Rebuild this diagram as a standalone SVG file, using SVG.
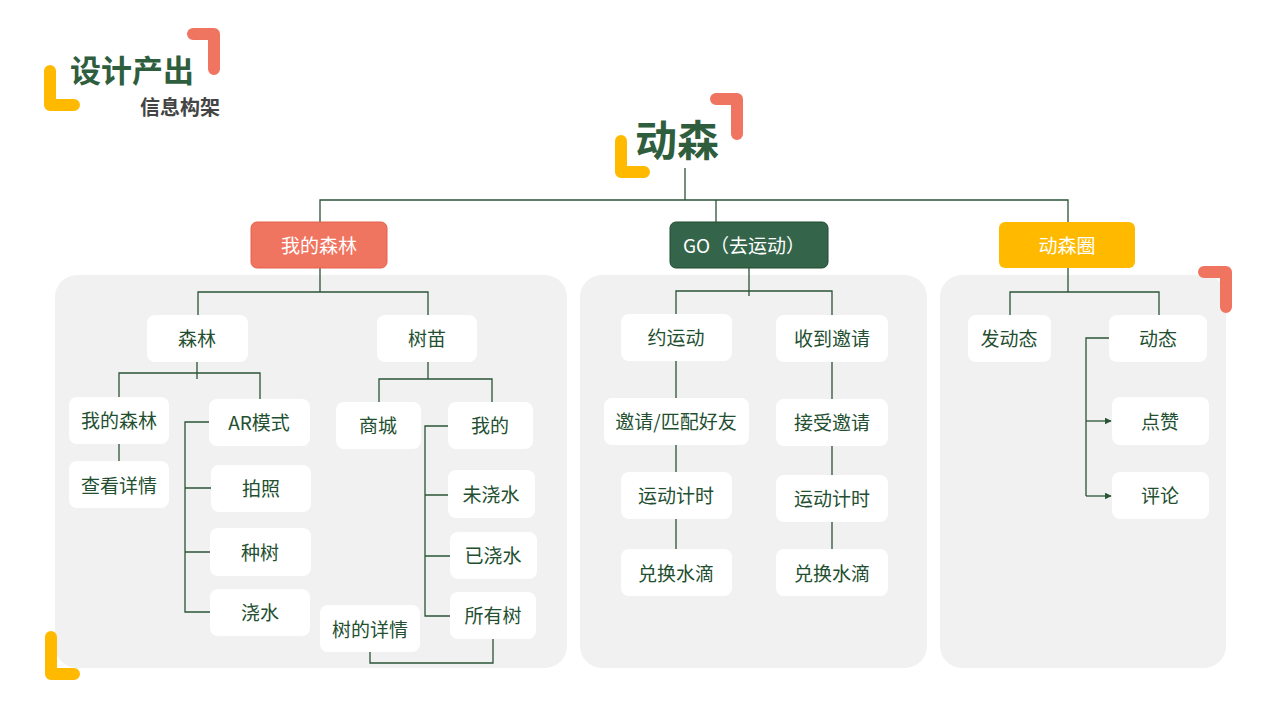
<svg xmlns="http://www.w3.org/2000/svg" width="1280" height="720" viewBox="0 0 1280 720">
<defs>
<style>
text{font-family:"Noto Sans CJK SC","Noto Sans",sans-serif;text-anchor:middle;dominant-baseline:central}
.n rect{fill:#ffffff}
.n text{font-size:19px;fill:#234f30}
.h text{font-size:19px;fill:#ffffff}
.panel{fill:#f0f1f0}
.br{fill:none;stroke-width:12;stroke-linecap:round;stroke-linejoin:round}
.y{stroke:#ffba00}
.r{stroke:#f07560}
.c path{fill:none;stroke:#2a5436;stroke-width:1.3}
</style>
<marker id="ar" viewBox="0 0 10 10" refX="9" refY="5" markerWidth="7" markerHeight="7" markerUnits="userSpaceOnUse" orient="auto">
<path d="M0,0 L10,5 L0,10 z" fill="#2a5436"/>
</marker>
</defs>
<rect width="1280" height="720" fill="#ffffff"/>

<!-- decorative brackets -->
<path class="br y" d="M50,71 L50,105 L74,105"/>
<path class="br r" d="M193,34 L214,34 L214,69"/>
<path class="br y" d="M621,141 L621,172 L644,172"/>
<path class="br r" d="M716,99 L737,99 L737,134"/>

<!-- titles -->
<text x="132" y="68" style="font-size:31px;font-weight:700;fill:#2f5e3e">设计产出</text>
<text x="180" y="106" style="font-size:20px;font-weight:700;fill:#444444">信息构架</text>
<text x="677" y="137" style="font-size:42px;font-weight:700;fill:#2f5e3e">动森</text>

<!-- panels -->
<rect class="panel" x="55" y="275" width="512" height="393" rx="22"/>
<rect class="panel" x="580" y="275" width="347" height="393" rx="22"/>
<rect class="panel" x="940" y="275" width="286" height="393" rx="22"/>

<path class="br r" d="M1204,272 L1226,272 L1226,307"/>
<path class="br y" d="M51,637 L51,674 L74,674"/>

<!-- connectors -->
<g class="c">
<path d="M685,168 V200 M320,222 V200 H1068 V222 M716,200 V222"/>
<path d="M320,268 V292 M198,316 V292 H428 V316"/>
<path d="M197,362 V379 M119,397 V373 H260 V399"/>
<path d="M119,444 V461"/>
<path d="M209,422 H185 V612 H210 M185,488 H211 M185,552 H210"/>
<path d="M428,362 V379 M379,402 V379 H492 V402"/>
<path d="M448,426 H425 V616 H450 M425,495 H448 M425,556 H450"/>
<path d="M493,639 V663 H370 V652"/>
<path d="M749,268 V296 M676,314 V291 H832 V315"/>
<path d="M676,361 V398 M676,445 V472 M676,519 V549"/>
<path d="M832,362 V399 M832,446 V475 M832,522 V549"/>
<path d="M1068,268 V292 M1010,315 V292 H1159 V315"/>
<path d="M1109,338 H1086 V496"/>
<path d="M1086,421 H1111" marker-end="url(#ar)"/>
<path d="M1086,496 H1111" marker-end="url(#ar)"/>
</g>

<!-- header nodes -->
<g id="h-forest" class="h"><rect x="251" y="222" width="136" height="46" rx="6" fill="#f07560" stroke="#e5604c"/><text x="319" y="244">我的森林</text></g>
<g id="h-go" class="h"><rect x="670" y="222" width="158" height="46" rx="6" fill="#34654a" stroke="#1f4a2d"/><text x="744" y="244">GO（去运动）</text></g>
<g id="h-circle" class="h"><rect x="999" y="222" width="136" height="46" rx="6" fill="#ffba00"/><text x="1067" y="244">动森圈</text></g>

<!-- left panel nodes -->
<g id="n-senlin" class="n"><rect x="147" y="315" width="101" height="47" rx="8"/><text x="197" y="337">森林</text></g>
<g id="n-shumiao" class="n"><rect x="377" y="315" width="100" height="47" rx="8"/><text x="427" y="337">树苗</text></g>
<g id="n-wodesenlin" class="n"><rect x="69" y="397" width="100" height="47" rx="8"/><text x="119" y="419">我的森林</text></g>
<g id="n-chakan" class="n"><rect x="69" y="461" width="100" height="47" rx="8"/><text x="119" y="484">查看详情</text></g>
<g id="n-ar" class="n"><rect x="209" y="399" width="101" height="47" rx="8"/><text x="259" y="421">AR模式</text></g>
<g id="n-paizhao" class="n"><rect x="211" y="465" width="100" height="47" rx="8"/><text x="261" y="487">拍照</text></g>
<g id="n-zhongshu" class="n"><rect x="210" y="528" width="101" height="48" rx="8"/><text x="260" y="551">种树</text></g>
<g id="n-jiaoshui" class="n"><rect x="210" y="589" width="100" height="47" rx="8"/><text x="260" y="611">浇水</text></g>
<g id="n-shangcheng" class="n"><rect x="336" y="402" width="85" height="47" rx="8"/><text x="378" y="424">商城</text></g>
<g id="n-wode" class="n"><rect x="448" y="402" width="85" height="47" rx="8"/><text x="490" y="424">我的</text></g>
<g id="n-weijiao" class="n"><rect x="448" y="470" width="87" height="48" rx="8"/><text x="491" y="493">未浇水</text></g>
<g id="n-yijiao" class="n"><rect x="450" y="532" width="87" height="47" rx="8"/><text x="493" y="554">已浇水</text></g>
<g id="n-suoyou" class="n"><rect x="450" y="592" width="86" height="47" rx="8"/><text x="493" y="614">所有树</text></g>
<g id="n-xiangqing" class="n"><rect x="320" y="605" width="100" height="47" rx="8"/><text x="370" y="628">树的详情</text></g>

<!-- middle panel nodes -->
<g id="n-yue" class="n"><rect x="621" y="314" width="111" height="47" rx="8"/><text x="676" y="336">约运动</text></g>
<g id="n-shoudao" class="n"><rect x="776" y="315" width="112" height="47" rx="8"/><text x="832" y="337">收到邀请</text></g>
<g id="n-yaoqing" class="n"><rect x="604" y="398" width="145" height="47" rx="8"/><text x="676" y="420">邀请/匹配好友</text></g>
<g id="n-jieshou" class="n"><rect x="776" y="399" width="112" height="47" rx="8"/><text x="832" y="421">接受邀请</text></g>
<g id="n-jishi1" class="n"><rect x="621" y="472" width="111" height="47" rx="8"/><text x="676" y="494">运动计时</text></g>
<g id="n-jishi2" class="n"><rect x="776" y="475" width="112" height="47" rx="8"/><text x="832" y="497">运动计时</text></g>
<g id="n-duihuan1" class="n"><rect x="621" y="549" width="111" height="47" rx="8"/><text x="676" y="572">兑换水滴</text></g>
<g id="n-duihuan2" class="n"><rect x="776" y="549" width="112" height="47" rx="8"/><text x="832" y="572">兑换水滴</text></g>

<!-- right panel nodes -->
<g id="n-fadongtai" class="n"><rect x="968" y="315" width="83" height="47" rx="8"/><text x="1009" y="337">发动态</text></g>
<g id="n-dongtai" class="n"><rect x="1109" y="315" width="98" height="47" rx="8"/><text x="1158" y="337">动态</text></g>
<g id="n-dianzan" class="n"><rect x="1112" y="397" width="97" height="48" rx="8"/><text x="1160" y="420">点赞</text></g>
<g id="n-pinglun" class="n"><rect x="1112" y="472" width="97" height="47" rx="8"/><text x="1160" y="494">评论</text></g>
</svg>
